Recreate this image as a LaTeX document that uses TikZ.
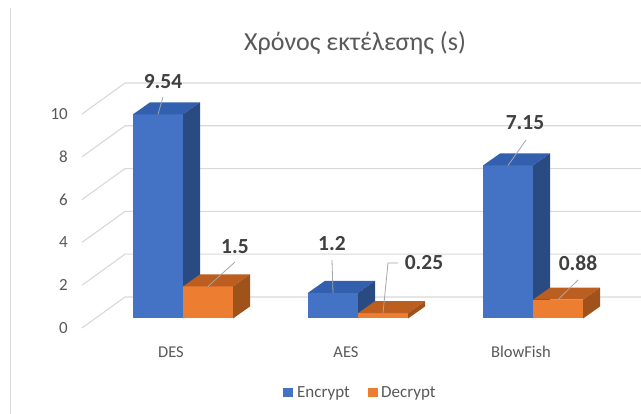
\documentclass[tikz,border=0pt]{standalone}
\usepackage{fontspec}
\setmainfont{Carlito}
\usetikzlibrary{calc}
\definecolor{blueF}{HTML}{4472C4}
\definecolor{blueT}{HTML}{3360AE}
\definecolor{blueS}{HTML}{2A4A82}
\definecolor{oranF}{HTML}{ED7D31}
\definecolor{oranT}{HTML}{BB5E20}
\definecolor{oranS}{HTML}{A0521B}
\definecolor{gridc}{HTML}{D9D9D9}
\definecolor{axtext}{HTML}{595959}
\definecolor{lbltext}{HTML}{404040}
\definecolor{leadc}{HTML}{A6A6A6}
\newcommand{\drawbar}[6]{%
  \pgfmathsetmacro{\xa}{#1}%
  \pgfmathsetmacro{\xb}{#1+50}%
  \pgfmathsetmacro{\yt}{318.5-#2*21.4}%
  \fill[#3] (\xa,318.5) rectangle (\xb,\yt);
  \fill[#4] (\xa,\yt) -- (\xb,\yt) -- (\xb+17,\yt-12) -- (\xa+17,\yt-12) -- cycle;
  \fill[#5] (\xb,318.5) -- (\xb,\yt) -- (\xb+17,\yt-12) -- (\xb+17,306.5) -- cycle;
  \coordinate (#6) at (\xa+25,\yt);
}
\begin{document}
\begin{tikzpicture}[x=1pt,y=-1pt,
  gridline/.style={draw=gridc,line width=1.1pt},
  ticklbl/.style={text=axtext,font=\fontsize{17}{17}\selectfont,anchor=east,inner sep=0pt},
  catlbl/.style={text=axtext,font=\fontsize{16.5}{16.5}\selectfont,inner sep=0pt},
  datalbl/.style={text=lbltext,font=\bfseries\fontsize{21.5}{21.5}\selectfont,inner sep=0pt},
  leader/.style={draw=leadc,line width=0.8pt},
  legtext/.style={text=axtext,font=\fontsize{17}{17}\selectfont,anchor=west,inner sep=0pt}]
\useasboundingbox (0,0) rectangle (641,414);
\fill[white] (0,0) rectangle (641,414);
\draw[gridc,line width=1pt] (10,8) -- (10,414);
% title
\node[text=axtext,font=\fontsize{26}{26}\selectfont,inner sep=0pt] (title) at (355,43) {Χρόνος εκτέλεσης (s)};
% gridlines and ticks
\foreach \v in {0,2,4,6,8,10}{
  \pgfmathsetmacro{\yb}{297-\v*21.4}
  \draw[gridline] (82,\yb+31) -- (125,\yb) -- (641,\yb);
  \node[ticklbl] (tick\v) at (68,\yb+31) {\v};
}
% bars
\drawbar{133}{9.54}{blueF}{blueT}{blueS}{t954}
\drawbar{183}{1.5}{oranF}{oranT}{oranS}{t15}
\drawbar{308}{1.2}{blueF}{blueT}{blueS}{t12}
\drawbar{358}{0.25}{oranF}{oranT}{oranS}{t025}
\drawbar{483}{7.15}{blueF}{blueT}{blueS}{t715}
\drawbar{533}{0.88}{oranF}{oranT}{oranS}{t088}
% data labels
\node[datalbl] (l954) at (163,82) {9.54};
\node[datalbl] (l15) at (235,247) {1.5};
\node[datalbl] (l12) at (332,244) {1.2};
\node[datalbl] (l025) at (424,263) {0.25};
\node[datalbl] (l715) at (525,123) {7.15};
\node[datalbl] (l088) at (578,263) {0.88};
\draw[leader] ($(l954.center)+(0,15)$) -- (t954);
\draw[leader] ($(l15.center)+(0,15)$) -- (t15);
\draw[leader] ($(l12.center)+(0,16)$) -- (t12);
\draw[leader] ($(l025.center)+(-26,0)$) -- ++(-10,0) -- (t025);
\draw[leader] ($(l715.center)+(1,17)$) -- (t715);
\draw[leader] ($(l088.center)+(0,17)$) -- (t088);
% categories
\node[catlbl] (cDES) at (171,352) {DES};
\node[catlbl] (cAES) at (346,352) {AES};
\node[catlbl] (cBF) at (521,352) {BlowFish};
% legend
\fill[blueF] (283,388) rectangle (293,397) coordinate (legB);
\node[legtext] (legE) at (297,393) {Encrypt};
\fill[oranF] (368,388) rectangle (378,397) coordinate (legO);
\node[legtext] (legD) at (381,393) {Decrypt};
\end{tikzpicture}
\end{document}
